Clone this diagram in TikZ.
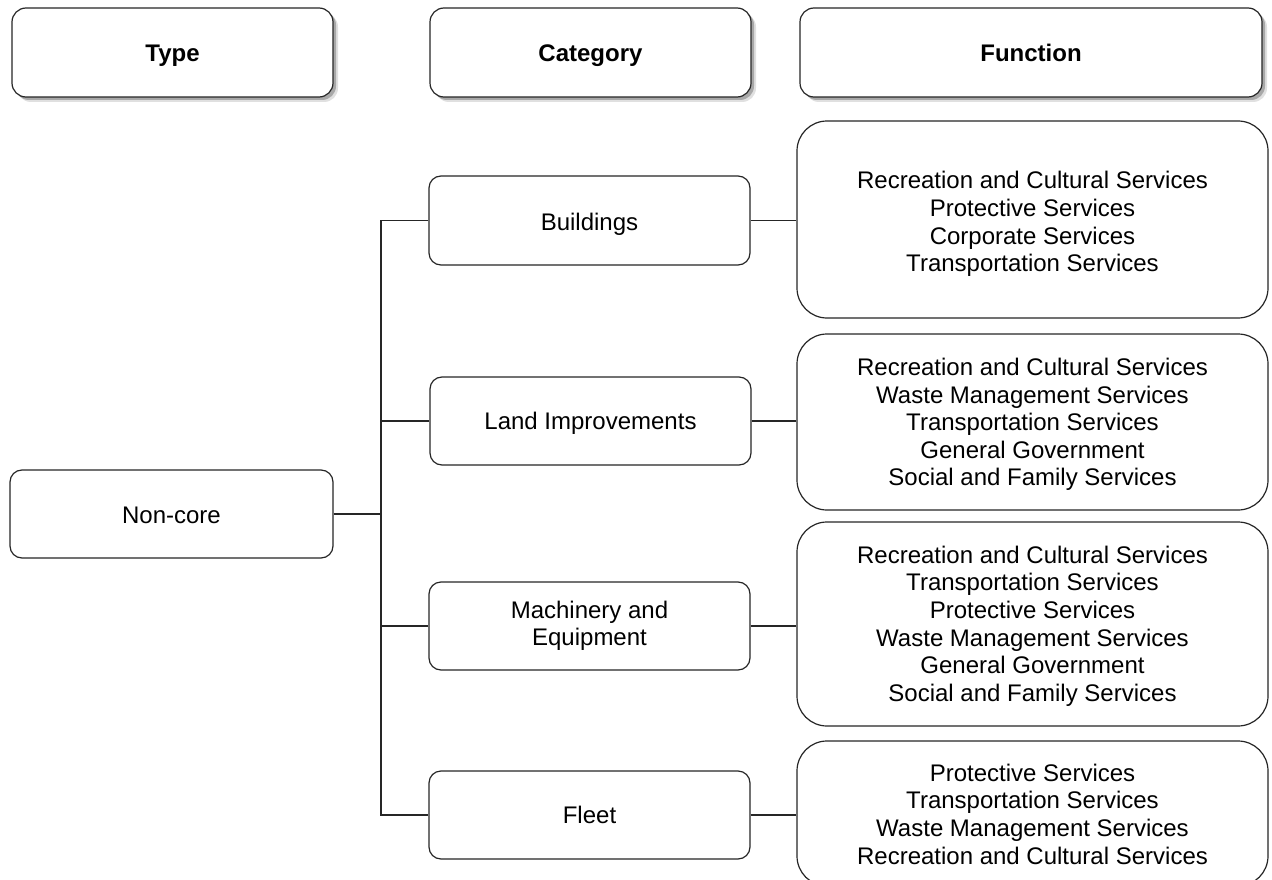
\documentclass[tikz,border=0pt]{standalone}
\usepackage{fontspec}
\setmainfont{Liberation Sans}
\usetikzlibrary{shadows}
\newcommand{\lnstrut}{\rule[-0.212em]{0pt}{1.117em}}
\newcommand{\firsth}[1]{\rule{0pt}{#1}}
\begin{document}
\begin{tikzpicture}[x=1pt,y=-1pt,
  base/.style={draw=black!85, line width=1.2pt, fill=white, inner sep=0pt,
    align=center, font=\fontsize{24}{27.6}\selectfont,
    execute at begin node=\lnstrut, execute at end node=\lnstrut},
  tdown/.style={execute at begin node={\rule[-0.212em]{0pt}{\dimexpr 1.117em+#1\relax}}},
  hdr/.style={base, tdown=2pt, rounded corners=14pt, font=\fontsize{24}{27.6}\selectfont\bfseries,
    drop shadow={shadow xshift=5pt,shadow yshift=-5pt,fill=black,opacity=0.12},
    drop shadow={shadow xshift=3pt,shadow yshift=-3pt,fill=black,opacity=0.25}},
  cat/.style={base, rounded corners=12pt},
  fun/.style={base, rounded corners=30pt},
  conn/.style={draw=black!85, line width=1.2pt}]
\useasboundingbox (0,0) rectangle (1272,880);
\clip (0,0) rectangle (1272,880);
% headers
\node[hdr, minimum width=321pt, minimum height=89pt] (htype) at (172.5,52.5) {Type};
\node[hdr, minimum width=321pt, minimum height=89pt] (hcat) at (590.5,52.5) {Category};
\node[hdr, minimum width=462pt, minimum height=89pt] (hfun) at (1031,52.5) {Function};
% type
\node[cat, tdown=2pt, minimum width=323pt, minimum height=88pt] (nc) at (171.5,514) {Non-core};
% categories
\node[cat, tdown=4pt, minimum width=321pt, minimum height=89pt] (bld) at (589.5,220.5) {Buildings};
\node[cat, minimum width=321pt, minimum height=88pt] (land) at (590.5,421) {Land Improvements};
\node[cat, minimum width=321pt, minimum height=88pt] (mach) at (589.5,626) {Machinery and\\Equipment};
\node[cat, minimum width=321pt, minimum height=88pt] (fleet) at (589.5,815) {Fleet};
% functions
\node[fun, minimum width=471pt, minimum height=197pt] (f1) at (1032.5,219.5)
  {\firsth{26.5pt}Recreation and Cultural Services\\Protective Services\\Corporate Services\\Transportation Services};
\node[fun, minimum width=471pt, minimum height=176pt] (f2) at (1032.5,422)
  {\firsth{22.5pt}Recreation and Cultural Services\\Waste Management Services\\Transportation Services\\General Government\\Social and Family Services};
\node[fun, minimum width=471pt, minimum height=204pt] (f3) at (1032.5,624)
  {\firsth{21.5pt}Recreation and Cultural Services\\Transportation Services\\Protective Services\\Waste Management Services\\General Government\\Social and Family Services};
\node[fun, minimum width=471pt, minimum height=145pt] (f4) at (1032.5,813.5)
  {\firsth{23.5pt}Protective Services\\Transportation Services\\Waste Management Services\\Recreation and Cultural Services};
% connectors
\coordinate (tx) at (381,0);
\draw[conn] (nc.east) -- (nc.east -| tx);
\draw[conn] (bld.west) -- (bld.west -| tx) -- (fleet.west -| tx) -- (fleet.west);
\draw[conn] (land.west) -- (land.west -| tx);
\draw[conn] (mach.west) -- (mach.west -| tx);
\draw[conn] (bld.east) -- (bld.east -| f1.west);
\draw[conn] (land.east) -- (land.east -| f2.west);
\draw[conn] (mach.east) -- (mach.east -| f3.west);
\draw[conn] (fleet.east) -- (fleet.east -| f4.west);
\end{tikzpicture}
\end{document}
